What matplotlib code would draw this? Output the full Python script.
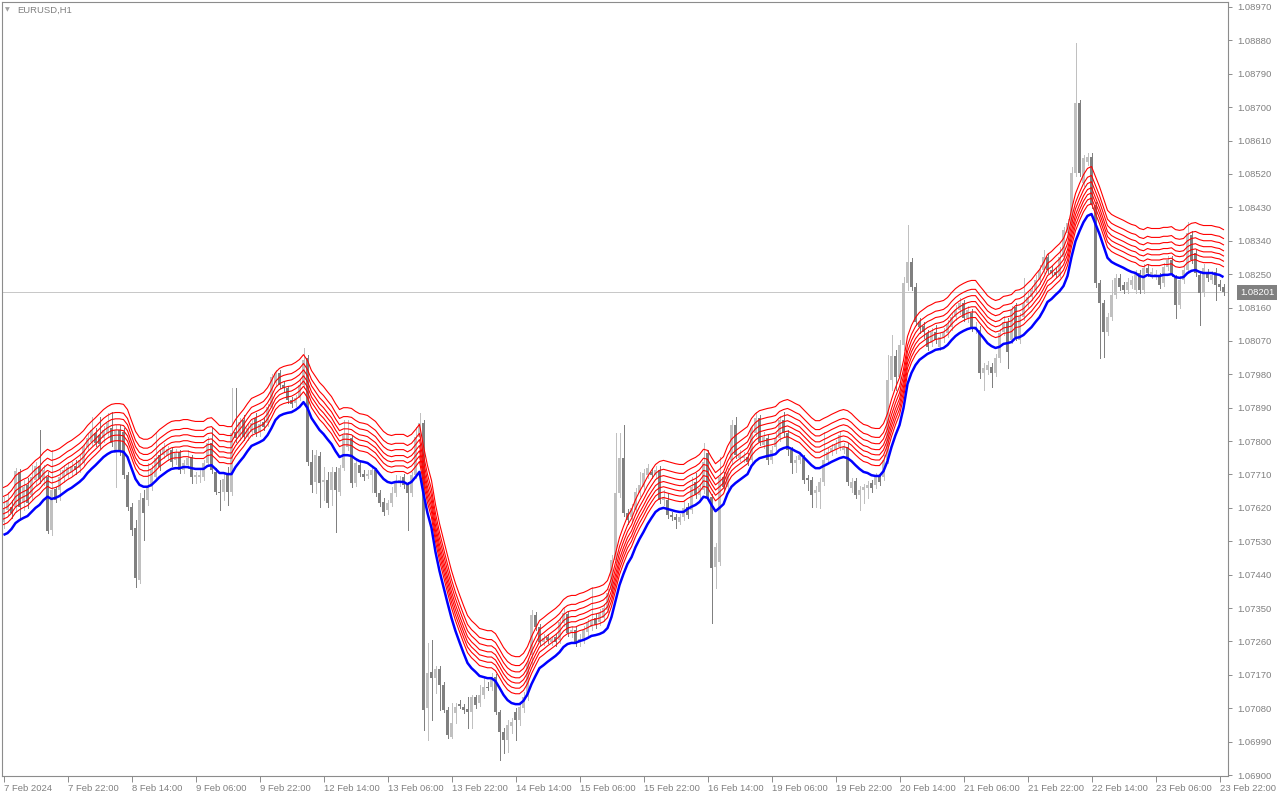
import numpy as np
import matplotlib
matplotlib.use("Agg")
import matplotlib.pyplot as plt
from matplotlib.transforms import ScaledTranslation, blended_transform_factory

# EURUSD H1, prices stored in points above 1.00000 (1 point = 0.00001)
opens = [
    7582, 7614, 7623, 7623, 7717, 7633, 7682, 7655, 7695, 7733,
    7695, 7703, 7560, 7671, 7668, 7700, 7708, 7717, 7733, 7727,
    7741, 7784, 7797, 7822, 7816, 7808, 7822, 7835, 7768, 7830,
    7824, 7708, 7623, 7566, 7425, 7647, 7641, 7677, 7703, 7762,
    7762, 7760, 7776, 7749, 7771, 7722, 7735, 7757, 7703, 7703,
    7703, 7741, 7795, 7717, 7663, 7663, 7714, 7663, 7824, 7811,
    7857, 7811, 7824, 7862, 7824, 7851, 7849, 7892, 7957, 7984,
    7951, 7943, 7911, 7903, 7916, 7951, 8024, 7744, 7690, 7760,
    7690, 7695, 7668, 7717, 7663, 7727, 7784, 7808, 7687, 7735,
    7711, 7706, 7708, 7722, 7660, 7636, 7614, 7633, 7660, 7687,
    7703, 7682, 7660, 7708, 7811, 7849, 7080, 7178, 7161, 7185,
    7143, 7075, 7002, 7067, 7091, 7083, 7078, 7070, 7110, 7094,
    7116, 7137, 7137, 7164, 7070, 7016, 6994, 7032, 7070, 7048,
    7081, 7110, 7223, 7331, 7299, 7258, 7272, 7258, 7272, 7264,
    7310, 7334, 7283, 7291, 7256, 7264, 7285, 7299, 7323, 7312,
    7323, 7345, 7398, 7479, 7660, 7754, 7606, 7595, 7614, 7660,
    7677, 7708, 7717, 7708, 7722, 7641, 7641, 7601, 7595, 7582,
    7595, 7623, 7614, 7690, 7655, 7668, 7768, 7649, 7460, 7474,
    7703, 7677, 7749, 7843, 7754, 7754, 7757, 7749, 7822, 7862,
    7789, 7808, 7749, 7784, 7808, 7857, 7822, 7776, 7741, 7749,
    7754, 7700, 7695, 7660, 7663, 7690, 7749, 7771, 7776, 7784,
    7776, 7784, 7674, 7692, 7655, 7668, 7674, 7687, 7682, 7703,
    7703, 7749, 7965, 8030, 7973, 8059, 8226, 8283, 8215, 8121,
    8110, 8091, 8064, 8094, 8054, 8078, 8091, 8107, 8134, 8153,
    8172, 8132, 8145, 8099, 8099, 7984, 7992, 8000, 7984, 8024,
    8094, 8121, 8072, 8161, 8072, 8134, 8172, 8188, 8207, 8234,
    8261, 8296, 8261, 8256, 8248, 8296, 8361, 8388, 8523, 8711,
    8496, 8552, 8566, 8436, 8226, 8172, 8094, 8134, 8194, 8240,
    8221, 8207, 8221, 8207, 8253, 8207, 8267, 8248, 8245, 8242,
    8226, 8269, 8288, 8240, 8167, 8234, 8261, 8355, 8307, 8248,
    8199, 8253, 8234, 8256, 8223, 8215,
]
highs = [
    7650, 7663, 7641, 7727, 7725, 7695, 7700, 7735, 7744, 7830,
    7735, 7717, 7776, 7677, 7722, 7735, 7744, 7744, 7749, 7762,
    7792, 7819, 7865, 7835, 7865, 7841, 7876, 7878, 7843, 7843,
    7835, 7717, 7633, 7587, 7660, 7668, 7741, 7735, 7822, 7776,
    7795, 7787, 7784, 7779, 7776, 7749, 7776, 7762, 7717, 7722,
    7749, 7811, 7835, 7727, 7695, 7714, 7730, 7943, 7943, 7862,
    7870, 7846, 7857, 7876, 7857, 7862, 7900, 7981, 7992, 7992,
    7960, 7949, 7919, 7924, 7965, 8051, 8032, 7776, 7776, 7771,
    7730, 7717, 7730, 7730, 7735, 7857, 7857, 7816, 7754, 7749,
    7722, 7722, 7733, 7727, 7668, 7647, 7641, 7677, 7708, 7706,
    7711, 7690, 7717, 7838, 7876, 7857, 7256, 7264, 7193, 7193,
    7151, 7083, 7094, 7094, 7102, 7091, 7110, 7116, 7116, 7143,
    7164, 7151, 7175, 7172, 7075, 7027, 7048, 7054, 7081, 7091,
    7124, 7215, 7345, 7339, 7307, 7280, 7280, 7275, 7280, 7323,
    7353, 7342, 7302, 7299, 7280, 7302, 7320, 7407, 7334, 7347,
    7361, 7401, 7493, 7822, 7822, 7843, 7617, 7630, 7674, 7717,
    7725, 7738, 7727, 7733, 7733, 7668, 7660, 7609, 7603, 7603,
    7641, 7633, 7703, 7714, 7684, 7795, 7776, 7658, 7525, 7757,
    7717, 7727, 7857, 7865, 7776, 7771, 7768, 7843, 7878, 7870,
    7824, 7816, 7787, 7822, 7868, 7878, 7830, 7784, 7760, 7771,
    7762, 7708, 7703, 7679, 7700, 7824, 7781, 7792, 7803, 7827,
    7795, 7795, 7700, 7700, 7679, 7684, 7692, 7695, 7714, 7711,
    7762, 8032, 8086, 8046, 8072, 8242, 8382, 8294, 8226, 8132,
    8121, 8099, 8105, 8113, 8091, 8105, 8126, 8145, 8167, 8186,
    8180, 8164, 8156, 8121, 8110, 8011, 8016, 8011, 8035, 8102,
    8137, 8132, 8164, 8172, 8145, 8240, 8202, 8218, 8248, 8275,
    8315, 8307, 8272, 8267, 8323, 8377, 8399, 8539, 8873, 8719,
    8571, 8577, 8577, 8444, 8234, 8180, 8145, 8234, 8250, 8250,
    8229, 8240, 8245, 8261, 8261, 8277, 8277, 8267, 8261, 8253,
    8280, 8299, 8299, 8248, 8245, 8272, 8390, 8366, 8315, 8259,
    8277, 8264, 8259, 8267, 8234, 8223,
]
lows = [
    7566, 7601, 7593, 7609, 7587, 7614, 7620, 7641, 7682, 7687,
    7682, 7552, 7547, 7636, 7641, 7690, 7700, 7706, 7711, 7717,
    7733, 7776, 7789, 7787, 7781, 7797, 7814, 7787, 7677, 7762,
    7700, 7614, 7547, 7407, 7417, 7533, 7628, 7668, 7695, 7722,
    7754, 7749, 7733, 7738, 7714, 7714, 7727, 7687, 7687, 7690,
    7695, 7733, 7714, 7657, 7614, 7641, 7628, 7655, 7797, 7803,
    7803, 7803, 7814, 7814, 7814, 7830, 7841, 7884, 7949, 7943,
    7932, 7903, 7892, 7895, 7911, 7943, 7735, 7663, 7660, 7623,
    7641, 7623, 7628, 7555, 7655, 7722, 7776, 7677, 7679, 7706,
    7695, 7700, 7663, 7652, 7625, 7601, 7603, 7625, 7652, 7679,
    7674, 7560, 7652, 7700, 7803, 7021, 6994, 7048, 7121, 7075,
    7070, 7000, 7000, 7040, 7081, 7067, 7027, 7027, 7081, 7086,
    7108, 7129, 7129, 7064, 6940, 6959, 6962, 7013, 6994, 7035,
    7070, 7102, 7193, 7291, 7250, 7250, 7256, 7250, 7248, 7256,
    7302, 7275, 7272, 7248, 7248, 7256, 7277, 7291, 7296, 7304,
    7315, 7339, 7390, 7474, 7649, 7598, 7576, 7582, 7606, 7652,
    7668, 7700, 7700, 7700, 7633, 7628, 7593, 7587, 7566, 7576,
    7587, 7593, 7606, 7647, 7641, 7660, 7641, 7310, 7404, 7466,
    7668, 7668, 7741, 7754, 7746, 7744, 7735, 7741, 7814, 7789,
    7781, 7738, 7741, 7776, 7800, 7814, 7762, 7714, 7717, 7741,
    7687, 7668, 7623, 7623, 7620, 7682, 7741, 7762, 7768, 7776,
    7768, 7682, 7663, 7647, 7614, 7633, 7647, 7663, 7674, 7682,
    7695, 7741, 7938, 7938, 7924, 8046, 8207, 8207, 8113, 8091,
    8078, 8046, 8056, 8064, 8046, 8067, 8080, 8099, 8126, 8143,
    8124, 8121, 8097, 8091, 7970, 7938, 7981, 7946, 7976, 8013,
    8086, 7997, 8064, 8072, 8064, 8126, 8161, 8180, 8196, 8223,
    8253, 8253, 8245, 8242, 8242, 8288, 8353, 8380, 8515, 8515,
    8488, 8544, 8428, 8215, 8024, 8027, 8086, 8126, 8186, 8207,
    8199, 8199, 8213, 8199, 8199, 8199, 8245, 8240, 8237, 8213,
    8218, 8261, 8245, 8132, 8159, 8226, 8253, 8280, 8245, 8113,
    8191, 8232, 8226, 8180, 8207, 8194,
]
closes = [
    7620, 7641, 7606, 7719, 7623, 7677, 7633, 7703, 7733, 7698,
    7722, 7557, 7668, 7641, 7703, 7722, 7730, 7733, 7722, 7749,
    7784, 7808, 7830, 7795, 7792, 7830, 7849, 7795, 7830, 7776,
    7708, 7623, 7560, 7431, 7641, 7606, 7677, 7722, 7754, 7730,
    7784, 7779, 7744, 7768, 7722, 7741, 7754, 7703, 7708, 7708,
    7741, 7795, 7722, 7663, 7660, 7698, 7663, 7822, 7808, 7851,
    7811, 7835, 7849, 7822, 7846, 7838, 7892, 7973, 7984, 7951,
    7943, 7911, 7900, 7916, 7951, 8019, 7744, 7682, 7762, 7687,
    7695, 7633, 7717, 7668, 7727, 7816, 7822, 7687, 7741, 7714,
    7703, 7711, 7722, 7660, 7633, 7609, 7633, 7660, 7690, 7695,
    7682, 7660, 7708, 7811, 7849, 7075, 7175, 7161, 7185, 7143,
    7075, 7008, 7040, 7083, 7086, 7075, 7070, 7110, 7089, 7116,
    7137, 7135, 7164, 7070, 7016, 6994, 7035, 7043, 7048, 7083,
    7110, 7202, 7331, 7299, 7258, 7269, 7264, 7266, 7258, 7312,
    7337, 7283, 7291, 7256, 7266, 7291, 7310, 7318, 7304, 7337,
    7350, 7390, 7479, 7660, 7754, 7606, 7587, 7620, 7663, 7682,
    7714, 7727, 7708, 7722, 7641, 7649, 7601, 7595, 7587, 7595,
    7620, 7601, 7677, 7655, 7674, 7744, 7649, 7458, 7514, 7703,
    7677, 7714, 7843, 7762, 7762, 7760, 7744, 7835, 7862, 7797,
    7811, 7749, 7776, 7808, 7857, 7822, 7776, 7741, 7749, 7762,
    7695, 7695, 7655, 7668, 7690, 7749, 7771, 7781, 7789, 7816,
    7784, 7690, 7690, 7655, 7668, 7677, 7682, 7674, 7703, 7690,
    7749, 7965, 8030, 7973, 8059, 8226, 8283, 8215, 8121, 8107,
    8094, 8054, 8094, 8072, 8080, 8094, 8113, 8134, 8153, 8172,
    8132, 8153, 8107, 8107, 7984, 7997, 8005, 7984, 8024, 8091,
    8121, 8040, 8153, 8080, 8134, 8172, 8188, 8207, 8234, 8261,
    8296, 8261, 8253, 8248, 8296, 8369, 8388, 8523, 8711, 8523,
    8563, 8566, 8436, 8226, 8172, 8094, 8134, 8194, 8240, 8215,
    8207, 8229, 8234, 8253, 8207, 8267, 8253, 8256, 8250, 8221,
    8269, 8288, 8253, 8167, 8234, 8261, 8361, 8288, 8253, 8199,
    8267, 8240, 8248, 8221, 8215, 8201,
]

# blue moving average, same units
ma_line = [
    7547, 7552, 7563, 7579, 7587, 7593, 7598, 7609, 7620, 7628,
    7641, 7650, 7644, 7647, 7652, 7660, 7668, 7674, 7682, 7690,
    7700, 7714, 7725, 7735, 7746, 7757, 7765, 7771, 7773, 7773,
    7771, 7757, 7727, 7698, 7682, 7677, 7677, 7682, 7692, 7703,
    7711, 7719, 7725, 7727, 7727, 7730, 7730, 7727, 7725, 7725,
    7725, 7733, 7735, 7725, 7714, 7714, 7711, 7711, 7730, 7744,
    7757, 7773, 7787, 7792, 7797, 7803, 7816, 7835, 7857, 7868,
    7873, 7876, 7878, 7884, 7892, 7905, 7889, 7862, 7846, 7830,
    7819, 7805, 7792, 7773, 7757, 7762, 7762, 7760, 7752, 7746,
    7744, 7741, 7733, 7725, 7711, 7698, 7690, 7687, 7690, 7690,
    7690, 7684, 7690, 7703, 7717, 7658, 7606, 7566, 7501, 7450,
    7407, 7364, 7323, 7288, 7258, 7229, 7202, 7188, 7178, 7167,
    7164, 7161, 7161, 7153, 7135, 7116, 7102, 7094, 7091, 7091,
    7100, 7118, 7145, 7167, 7188, 7196, 7205, 7213, 7221, 7231,
    7245, 7253, 7256, 7256, 7261, 7264, 7269, 7275, 7277, 7280,
    7285, 7296, 7326, 7369, 7412, 7442, 7469, 7487, 7514, 7536,
    7555, 7576, 7593, 7609, 7617, 7620, 7617, 7614, 7611, 7609,
    7609, 7617, 7623, 7628, 7636, 7650, 7647, 7628, 7611, 7620,
    7630, 7658, 7677, 7687, 7695, 7703, 7711, 7733, 7746, 7754,
    7757, 7760, 7762, 7765, 7776, 7781, 7784, 7779, 7773, 7768,
    7757, 7746, 7735, 7727, 7727, 7733, 7738, 7744, 7749, 7754,
    7757, 7754, 7746, 7735, 7725, 7717, 7714, 7708, 7706, 7706,
    7719, 7746, 7784, 7816, 7843, 7889, 7954, 7984, 8005, 8019,
    8027, 8035, 8040, 8046, 8048, 8051, 8059, 8072, 8083, 8091,
    8097, 8102, 8105, 8105, 8091, 8078, 8064, 8056, 8051, 8054,
    8062, 8064, 8067, 8078, 8080, 8086, 8097, 8107, 8121, 8134,
    8153, 8175, 8183, 8194, 8204, 8218, 8245, 8296, 8339, 8366,
    8390, 8407, 8412, 8385, 8358, 8326, 8294, 8283, 8277, 8272,
    8267, 8261, 8256, 8253, 8245, 8242, 8248, 8245, 8245, 8245,
    8248, 8248, 8250, 8242, 8240, 8242, 8253, 8259, 8261, 8256,
    8253, 8253, 8253, 8250, 8248, 8242,
]
# red envelope lines above the average (points)
band_offsets = [28, 43, 57, 71, 87, 104, 128]

time_labels = ["7 Feb 2024", "7 Feb 22:00", "8 Feb 14:00", "9 Feb 06:00",
               "9 Feb 22:00", "12 Feb 14:00", "13 Feb 06:00", "13 Feb 22:00",
               "14 Feb 14:00", "15 Feb 06:00", "15 Feb 22:00", "16 Feb 14:00",
               "19 Feb 06:00", "19 Feb 22:00", "20 Feb 14:00", "21 Feb 06:00",
               "21 Feb 22:00", "22 Feb 14:00", "23 Feb 06:00", "23 Feb 22:00"]
bars_per_label = 16
symbol = "EURUSD,H1"

# colours / fonts
bull_col = "#c0c0c0"
bear_col = "#808080"
txt_col = "#808080"
frame_col = "#8c8c8c"
font = "Liberation Sans"


def to_price(v):
    return 1.0 + np.asarray(v, dtype=float) / 1e5


o = to_price(opens)
h = to_price(highs)
l = to_price(lows)
c = to_price(closes)
ma = to_price(ma_line)
x = np.arange(len(c))

W, H = 1280, 800
fig = plt.figure(figsize=(W / 100, H / 100), dpi=100)
fig.patch.set_facecolor("white")
# plot frame: x 2..1228, y 2..776 (pixels)
ax = fig.add_axes([2 / W, 24 / H, 1226 / W, 774 / H])

# price scale: y=7px -> 1.08970, y=775px -> 1.06900
per_px = 0.0207 / 768
ax.set_ylim(1.06900 - 1 * per_px, 1.08970 + 5 * per_px)
ax.set_xlim(-0.375, 306.125)

# last price line
ax.axhline(c[-1], color="#c8c8c8", lw=0.72, zorder=1)

# candles
up = c >= o
cols = np.where(up, bull_col, bear_col)
ax.vlines(x, l, h, colors=cols, linewidth=0.72, zorder=2, antialiased=False)
body_lo = np.minimum(o, c)
body_h = np.maximum(np.abs(c - o), per_px)
ax.bar(x, body_h, bottom=body_lo, width=0.8, color=cols, linewidth=0,
       zorder=2, antialiased=False)

# envelope lines
for off in band_offsets:
    ax.plot(x, ma + off / 1e5, color="#ff0000", lw=0.8, zorder=3)
ax.plot(x, ma, color="#0000ff", lw=1.8, zorder=4, solid_capstyle="butt")

# frame
for s in ax.spines.values():
    s.set_color(frame_col)
    s.set_linewidth(0.8)

# right price axis
yt = np.round(1.069 + 0.0009 * np.arange(24), 5)
ax.yaxis.tick_right()
ax.set_yticks(yt)
ax.set_yticklabels([f"{v:.5f}" for v in yt])
ax.tick_params(axis="y", direction="out", length=3, width=0.7, color=frame_col,
               pad=4, labelsize=6.8, labelcolor=txt_col)

# time axis
xt = np.arange(len(time_labels)) * bars_per_label
ax.set_xticks(xt)
ax.set_xticklabels(time_labels, ha="left")
ax.tick_params(axis="x", direction="out", length=4, width=0.7, color=frame_col,
               pad=2, labelsize=6.8, labelcolor=txt_col)
shift = ScaledTranslation(1 / 100, 0, fig.dpi_scale_trans)
for lab in ax.get_xticklabels() + ax.get_yticklabels():
    lab.set_fontfamily(font)
for lab in ax.get_xticklabels():
    lab.set_transform(lab.get_transform() + shift)

# current price tag
tag_tr = blended_transform_factory(fig.transFigure, ax.transData)
ax.text(1240 / W, c[-1], f"{c[-1]:.5f}", transform=tag_tr,
        ha="left", va="center", fontsize=6.8, color="white", family=font,
        bbox=dict(boxstyle="square,pad=0.3", fc="#808080", ec="none"),
        zorder=10, clip_on=False)

# symbol caption
fig.text(5 / W, 1 - 10 / H, "\u25bc", fontsize=4.5, color="#a0a0a0", va="center", ha="left")
fig.text(17 / W, 1 - 10 / H, symbol, fontsize=6.8, color=txt_col, va="center", ha="left",
         family=font)

fig.savefig("out.png", dpi=100, facecolor="white")
